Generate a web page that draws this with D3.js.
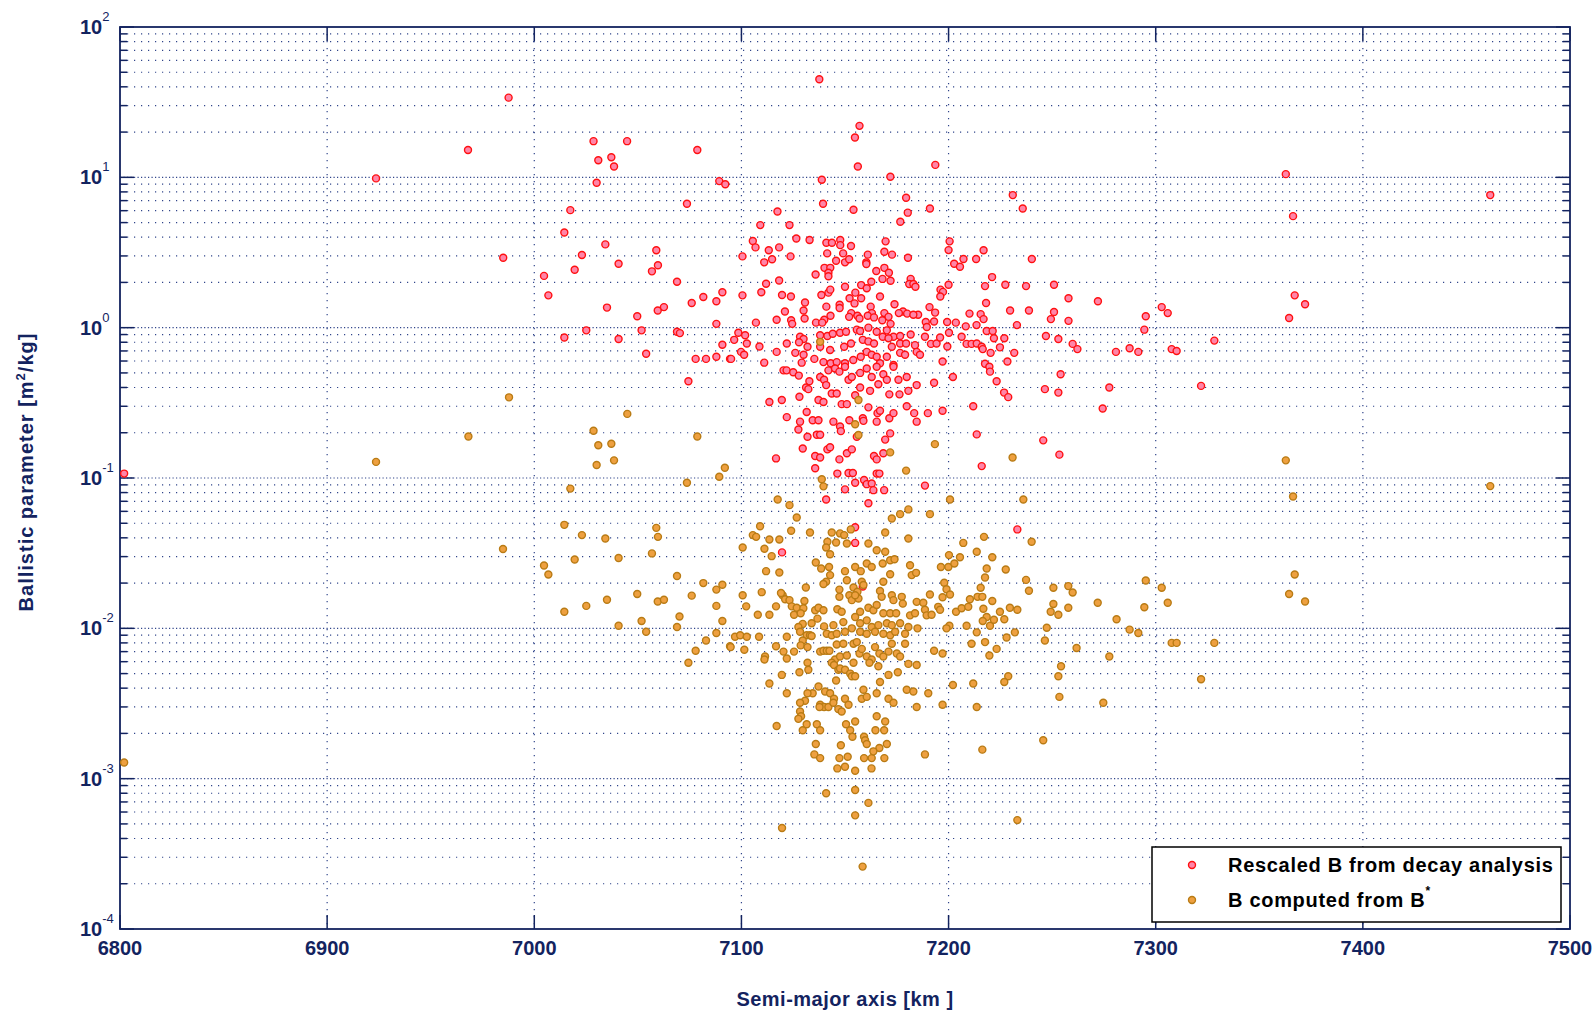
<!DOCTYPE html>
<html>
<head>
<meta charset="utf-8">
<script src="https://cdn.jsdelivr.net/npm/d3@7"></script>
<style>
  html, body { margin: 0; padding: 0; background: #ffffff; }
  svg { display: block; }
</style>
</head>
<body>
<div id="chart"></div>
<script>
// axis values
const xTicks = [6800, 6900, 7000, 7100, 7200, 7300, 7400, 7500];
const yExponents = [-4, -3, -2, -1, 0, 1, 2];
const legendLabels = ["Rescaled B from decay analysis", "B computed from B"];

// [semi-major axis km, ballistic parameter m2/kg]
const rescaledB = [
  [6802,0.107],[6923.6,9.84],[6968,15.2],[6987.6,33.9],[6985,2.92],[7028.6,17.4],[7044.8,17.4],
  [7030.9,13.0],[7037.2,13.6],[7038.5,11.8],[7030.1,9.2],[7078.7,15.2],[7017.4,6.05],[7014.5,4.3],
  [7034.3,3.58],[7058.9,3.27],[7073.7,6.67],[7089.3,9.44],[7092.2,9.0],[7023,3.04],[7040.7,2.66],
  [7059.7,2.6],[7056.8,2.37],[7019.5,2.43],[7004.7,2.21],[7006.8,1.64],[7068.9,2.02],[7076,1.46],
  [7081.6,1.6],[7087.9,1.5],[7090.8,1.72],[7035.1,1.36],[7049.7,1.19],[7059.6,1.3],[7062.6,1.37],
  [7087.9,1.06],[7025.1,0.96],[7014.5,0.86],[7040.7,0.84],[7051.8,0.96],[7068.9,0.94],[7070.3,0.92],
  [7090.8,0.77],[7054,0.67],[7077.9,0.62],[7082.9,0.62],[7087.9,0.64],[7094.5,0.62],[7074.4,0.44],
  // right side
  [7362.8,10.5],[7461.5,7.62],[7366.3,5.52],[7367.1,1.64],[7372.1,1.43],[7364.4,1.16],[7295.2,1.19],
  [7302.9,1.37],[7305.8,1.25],[7294.5,0.97],[7287.4,0.73],[7291.6,0.69],[7307.7,0.72],[7310.1,0.7],
  [7328.3,0.82],[7321.9,0.41],
  // upper middle
  [7137.6,44.9],[7157,22],[7154.8,18.4],[7156.2,11.8],[7193.6,12.1],[7138.8,9.64],[7171.9,10.1],
  [7179.5,7.31],[7180.3,5.82],[7176.7,5.07],[7191,6.21],[7139.4,6.67],[7154.1,6.09],[7117.4,5.93],
  [7109.1,4.81],[7123.2,4.81],[7231,7.62],[7235.8,6.21],[7126.5,3.92],[7132.9,3.83],[7105.5,3.77],
  [7106.8,3.42],[7118.2,3.42],[7113.2,3.27],[7100.5,2.98],[7123.7,2.98],[7111,2.72],[7114.8,2.85],
  [7141,3.67],[7143.7,3.67],[7147.7,3.83],[7147.7,3.54],[7152.9,3.49],[7141.4,3.12],[7149.1,3.12],
  [7145.7,2.79],[7150,2.72],[7152,2.85],[7169.6,3.75],[7169,3.2],[7172.7,3.06],[7161,3.06],
  [7160.3,2.72],[7160.3,2.65],[7180.4,2.92],[7140.1,2.5],[7142.9,2.5],[7169,2.5],[7142,2.32],
  [7142,2.2],[7135.8,2.26],[7165.1,2.38],[7171.2,2.32],[7168.1,2.11],[7181.7,2.11],[7172,2.05],
  [7181,1.95],[7183,1.95],[7184,1.87],[7157.8,1.92],[7160.5,1.83],[7162.7,2.02],[7150,1.87],
  [7155,1.71],[7142,1.71],[7142.9,1.79],[7138.6,1.65],[7119.6,1.65],[7123.9,1.61],[7118.2,2.06],
  [7111.9,1.96],[7109.6,1.72],[7100.5,1.64],[7166.9,1.61],[7152.2,1.57],[7157.8,1.57],[7154.6,1.45],
  [7162.4,1.38],[7173.9,1.43],[7196.1,1.79],[7197.3,1.73],[7196,1.61],[7200,1.93],[7200.5,3.75],
  [7200,3.28],[7202.7,2.66],[7205.5,2.54],[7207.2,2.86],[7213.3,2.86],[7216.9,3.27],[7221,2.17],
  [7217.6,1.89],[7237.4,1.89],[7227.4,1.93],[7250.9,1.93],[7240.2,2.86],[7257.9,1.57],[7272.1,1.5],
  [7218.1,1.46],[7229.7,1.3],[7238.8,1.3],[7250.9,1.27],[7249.4,1.14],[7257.9,1.11],[7233,1.04],
  [7210.1,1.24],[7215.5,1.23],[7216.9,1.14],[7208.3,1.02],[7213.5,1.04],[7203.5,1.08],[7199.3,1.09],
  [7193,1.1],[7193.5,1.26],[7190.8,1.37],[7185.3,1.22],[7189,1.09],[7189.5,1.01],[7178,1.28],
  [7180,1.24],[7183,1.22],[7176,1.25],[7169,1.25],[7171,1.18],[7168,1.12],[7172,1.06],[7163,1.25],
  [7161,1.2],[7164,1.17],[7153,1.25],[7156,1.2],[7157,1.15],[7152,1.18],[7147.4,1.42],[7147.4,1.35],
  [7141,1.38],[7143,1.2],[7140,1.13],[7136,1.08],[7139,1.08],[7130.7,1.47],[7130,1.3],[7130.5,1.15],
  [7121,1.28],[7117,1.13],[7107,1.08],[7124,1.12],[7124.5,1.06],
  // core below 1
  [7098.5,0.925],[7101.8,0.89],[7128.3,0.87],[7130,0.84],[7138,0.89],[7141.5,0.88],[7144.1,0.91],
  [7147.6,0.925],[7150.5,0.94],[7155.7,0.97],[7157.3,0.95],[7161.3,1.0],[7165.3,0.94],[7170.2,0.96],
  [7173.4,0.87],[7176.6,0.88],[7181.7,0.9],[7096.5,0.83],[7102.6,0.785],[7108.7,0.75],[7121.9,0.785],
  [7127.8,0.8],[7131.9,0.746],[7138,0.746],[7142.8,0.71],[7149.6,0.746],[7152.9,0.785],[7158.6,0.83],
  [7161.3,0.81],[7164,0.785],[7168.2,0.87],[7171,0.85],[7172.6,0.746],[7176.6,0.785],[7179.5,0.785],
  [7183.8,0.765],[7099.8,0.69],[7101.3,0.66],[7095,0.62],[7117,0.69],[7126,0.68],[7130,0.66],
  [7135.2,0.62],[7139.6,0.59],[7143.1,0.58],[7146,0.59],[7150,0.58],[7154,0.61],[7157.6,0.64],
  [7160.5,0.69],[7162.9,0.66],[7165.3,0.64],[7166.9,0.58],[7170.2,0.64],[7173.4,0.565],[7176.6,0.68],
  [7179,0.66],[7184.6,0.69],[7111,0.585],[7120.3,0.52],[7121.8,0.52],[7125,0.505],[7127.7,0.48],
  [7129.1,0.585],[7132.8,0.44],[7138,0.47],[7139.9,0.45],[7142,0.52],[7145.2,0.535],[7147.3,0.51],
  [7150,0.55],[7151.7,0.45],[7153.3,0.47],[7157.3,0.5],[7160.5,0.535],[7162.9,0.47],[7165.3,0.55],
  [7168.5,0.49],[7170.2,0.45],[7173.4,0.55],[7175.8,0.45],[7179.8,0.47],[7113.5,0.32],[7119.5,0.33],
  [7128,0.347],[7131.2,0.4],[7132.3,0.39],[7137.2,0.33],[7139.6,0.32],[7140.9,0.415],[7143.6,0.365],
  [7146,0.365],[7148.4,0.31],[7150.9,0.31],[7154.9,0.355],[7157.3,0.4],[7162.1,0.38],[7166.1,0.42],
  [7171.4,0.36],[7176.3,0.36],[7180.6,0.38],[7184.6,0.415],[7121.9,0.254],[7128.3,0.237],[7127.5,0.21],
  [7131.5,0.275],[7131.9,0.188],[7134.4,0.242],[7137.2,0.242],[7136.4,0.194],[7138,0.194],[7144.4,0.237],
  [7147.6,0.22],[7148,0.205],[7152.1,0.242],[7158.6,0.25],[7158.9,0.24],[7161.3,0.295],[7165.3,0.237],
  [7165.7,0.27],[7166.9,0.28],[7171.4,0.25],[7173.4,0.27],[7179.8,0.3],[7183.4,0.27],[7184.6,0.237],
  [7116.7,0.135],[7129.6,0.157],[7135.6,0.14],[7138,0.137],[7135.6,0.116],[7141.5,0.155],[7142.8,0.16],
  [7147.3,0.133],[7150.9,0.146],[7153.3,0.155],[7151.7,0.108],[7153.8,0.108],[7155.7,0.188],[7164,0.14],
  [7165.3,0.133],[7168.5,0.146],[7169.4,0.18],[7171.8,0.198],[7165.3,0.107],[7146.3,0.107],[7150,0.084],
  [7154.9,0.093],[7159.2,0.097],[7160.5,0.091],[7162.9,0.092],[7163.7,0.083],[7166.6,0.107],[7168.9,0.083],
  [7140.9,0.072],
  [7188.6,0.87],[7191.5,0.78],[7194.2,0.785],[7195.9,0.86],[7199.4,0.75],[7200.2,0.925],[7206.3,0.87],
  [7208.7,0.78],[7211.1,0.78],[7213.6,0.785],[7216,0.746],[7216.5,0.72],[7218.4,0.95],[7221.3,0.95],
  [7221.9,0.85],[7224.8,0.74],[7226.9,0.85],[7220.3,0.68],[7217.6,0.575],[7219.7,0.55],[7220,0.51],
  [7197.1,0.595],[7186.2,0.66],[7228.4,0.595],[7231.7,0.68],[7247,0.88],[7253,0.84],[7259.9,0.78],
  [7262.2,0.72],[7280.8,0.69],[7254.1,0.49],[7202.1,0.47],[7193,0.43],[7223.2,0.44],[7226.8,0.37],
  [7228.8,0.345],[7246.5,0.39],[7253,0.37],[7277.6,0.4],[7211.9,0.3],[7197.1,0.28],[7190,0.27],
  [7274.4,0.29],[7213.6,0.195],[7245.7,0.178],[7253.5,0.143],[7216,0.12],[7188.6,0.089],
  // low outliers
  [7119.6,0.032],[7154.9,0.047],[7154.9,0.037],[7158.6,0.019],[7233.2,0.0455],[7161.3,0.068]
];

const computedB = [
  [6802,0.00128],[6987.8,0.344],[6968.2,0.189],[6923.6,0.128],[7044.9,0.267],[7028.6,0.206],
  [7030.9,0.165],[7037.2,0.169],[7030.1,0.122],[7038.5,0.131],[7078.7,0.189],[7092,0.117],
  [7089.3,0.102],[7073.7,0.093],[7017.4,0.085],[7014.5,0.0488],[7023,0.0417],[7034.3,0.0396],
  [7058.9,0.0466],[7059.7,0.0406],[7056.8,0.0315],[6984.9,0.0337],[7019.5,0.0287],[7040.7,0.0294],
  [7004.7,0.0262],[7006.8,0.0228],[7068.9,0.0223],[7081.6,0.02],[7087.9,0.0181],[7090.8,0.0195],
  [7049.7,0.0169],[7076,0.0165],[7035.1,0.0155],[7059.6,0.0151],[7062.6,0.0155],[7087.9,0.0141],
  [7025.1,0.0141],[7014.5,0.0129],[7070.1,0.012],[7090.8,0.0112],[7040.7,0.0104],[7051.8,0.0112],
  [7054,0.0095],[7068.9,0.0102],[7087.9,0.0093],[7082.9,0.0083],[7094.5,0.0076],[7077.9,0.0071],
  [7074.4,0.0059],
  // right side
  [7362.8,0.131],[7461.5,0.0883],[7366.3,0.0754],[7367.1,0.0228],[7364.4,0.0169],[7372.1,0.0151],
  [7295.2,0.0208],[7302.9,0.0186],[7305.8,0.0148],[7294.5,0.0138],[7287.4,0.0098],[7291.6,0.0093],
  [7307.7,0.008],[7310.1,0.008],[7328.3,0.008],[7321.9,0.00458],
  // upper middle
  [7138,0.805],[7156.5,0.33],[7154.9,0.228],[7156.5,0.193],[7171.8,0.148],[7179.5,0.112],
  [7138.8,0.098],[7139.6,0.088],[7117.5,0.072],[7193.4,0.168],[7230.9,0.137],[7200.7,0.072],
  [7236.1,0.072],
  // core
  [7123.2,0.066],[7126.7,0.0546],[7109,0.0478],[7105.5,0.0417],[7107.1,0.0406],[7113.5,0.039],
  [7118.3,0.039],[7124,0.0446],[7133.1,0.0434],[7143.6,0.0434],[7147.6,0.0428],[7149.6,0.0417],
  [7152.8,0.0455],[7145.7,0.0372],[7150.9,0.0367],[7141.5,0.0377],[7140.9,0.0345],[7161.3,0.0367],
  [7165.3,0.0331],[7169.4,0.0323],[7169.4,0.0434],[7172.6,0.0538],[7176.6,0.0575],[7180.6,0.0618],
  [7180.6,0.0396],[7100.6,0.0345],[7111.1,0.0338],[7114.6,0.0302],[7142.8,0.0311],
  [7135.9,0.0274],[7138.5,0.025],[7142.3,0.0256],[7150,0.024],[7154.9,0.0256],[7157.6,0.024],
  [7160.5,0.027],[7162.9,0.0256],[7168.2,0.027],[7171.8,0.0284],[7173.9,0.0288],[7181.4,0.0263],
  [7182.2,0.0226],[7171.8,0.0229],[7111.9,0.024],[7118.3,0.0235],[7142.8,0.0226],[7140.9,0.0204],
  [7139.6,0.0197],[7150.9,0.0209],[7158.1,0.0204],[7154.1,0.0187],[7158.9,0.0194],[7168.5,0.0204],
  [7184.3,0.0234],
  [7100.6,0.0166],[7109.8,0.0174],[7131.1,0.0187],[7147.3,0.0181],[7119.9,0.0166],[7121.1,0.0156],
  [7123.2,0.0154],[7124.3,0.014],[7130.4,0.0152],[7147.3,0.0162],[7152.1,0.0166],[7153.3,0.0154],
  [7156,0.0175],[7156.5,0.0158],[7154.9,0.0166],[7166.9,0.0177],[7167.7,0.0162],[7172.6,0.0166],
  [7173.4,0.0154],[7177.4,0.0162],[7177.9,0.0146],[7184.6,0.015],[7102.3,0.014],[7116.7,0.014],
  [7126.7,0.0137],[7129.9,0.0136],[7135.6,0.0132],[7137.2,0.0137],[7139.6,0.0132],[7146.3,0.0134],
  [7148.4,0.0129],[7157.3,0.0129],[7161.3,0.0137],[7163.7,0.0132],[7165.3,0.0143],[7168.5,0.0126],
  [7171.8,0.0126],[7174.7,0.0126],[7181.4,0.0122],[7183.8,0.0126],
  [7107.9,0.0123],[7113.5,0.0123],[7119.1,0.0172],[7125.4,0.0123],[7128.6,0.0126],[7136.7,0.0116],
  [7133.9,0.0108],[7129.6,0.0107],[7127.5,0.0102],[7139.9,0.0103],[7144.4,0.0105],[7149.2,0.011],
  [7154.9,0.0119],[7157.3,0.0108],[7160.5,0.0113],[7162.9,0.0102],[7166.1,0.0105],[7170.2,0.0108],
  [7172.6,0.0105],[7176.6,0.0108],[7179,0.0092],[7180.6,0.0102],[7185,0.01],[7096.9,0.0088],
  [7099.4,0.009],[7102.6,0.0088],[7108.5,0.0088],[7121.9,0.0088],[7128.3,0.0095],[7131.5,0.009],
  [7133.1,0.009],[7141.2,0.0092],[7143.6,0.009],[7146,0.0092],[7150,0.0095],[7153.3,0.01],
  [7157.3,0.0095],[7160.5,0.0092],[7164.5,0.0095],[7168.5,0.0092],[7171.8,0.009],[7174.2,0.0095],
  [7094.8,0.0075],[7101.4,0.0072],[7111.4,0.0065],[7111.1,0.0062],[7116.7,0.0076],[7120.3,0.007],
  [7121.9,0.0063],[7125.4,0.007],[7129.6,0.0083],[7128.6,0.0077],[7131.9,0.0075],[7133.9,0.0089],
  [7138,0.007],[7139.6,0.0071],[7141.2,0.0071],[7142.5,0.0071],[7145.2,0.0062],[7146,0.0078],
  [7147.6,0.0065],[7149.2,0.0079],[7150.9,0.0066],[7154.1,0.0079],[7155.7,0.0081],[7157,0.0068],
  [7158.1,0.0073],[7160.5,0.0065],[7162.9,0.0062],[7164.5,0.0075],[7166.6,0.0068],[7168.5,0.0065],
  [7171,0.007],[7172.6,0.0079],[7175,0.0068],[7176.6,0.0065],[7179,0.0079],[7180.6,0.0058],
  [7184.6,0.0057],
  [7131.9,0.0059],[7132.3,0.0053],[7128,0.0051],[7119.5,0.0049],[7143.6,0.0059],[7144.7,0.0057],
  [7146.8,0.0053],[7147.6,0.0054],[7150,0.0053],[7152.5,0.005],[7153.3,0.0048],[7154.1,0.0059],
  [7154.9,0.0048],[7161.8,0.0059],[7166.1,0.0056],[7166.9,0.0044],[7171,0.0049],[7175.5,0.0051],
  [7113.5,0.0043],[7145.7,0.0045],
  [7137.2,0.0041],[7134.4,0.0037],[7131.9,0.0037],[7140.4,0.0038],[7142.8,0.0037],[7144.7,0.0034],
  [7121.9,0.0037],[7130.7,0.0033],[7128.3,0.0032],[7138,0.0031],[7139.9,0.003],[7142,0.003],
  [7144.4,0.0032],[7137.7,0.003],[7146.8,0.0029],[7148.4,0.0028],[7150,0.0034],[7151.7,0.0031],
  [7158.1,0.0034],[7158.9,0.0039],[7160.5,0.0035],[7165.3,0.0037],[7171,0.0034],[7173.4,0.0032],
  [7179.8,0.0039],[7183,0.0038],[7184.6,0.003],
  [7128.3,0.0028],[7128.8,0.0026],[7127.5,0.0025],[7117,0.00224],[7129.6,0.0021],[7131.5,0.0023],
  [7136.4,0.0023],[7138,0.0021],[7150.5,0.0023],[7152.5,0.0021],[7153.6,0.0019],[7154.9,0.0024],
  [7159.2,0.0019],[7159.7,0.0018],[7160.5,0.0017],[7164.7,0.0021],[7166.6,0.0016],[7165.3,0.0026],
  [7169.4,0.0024],[7168.9,0.0021],[7170.2,0.0017],
  [7135.9,0.0017],[7135.2,0.00145],[7138,0.00137],[7148,0.00167],[7147.3,0.00137],[7151.3,0.0014],
  [7150,0.0012],[7146.3,0.00117],[7154.9,0.00113],[7159.2,0.00137],[7162.9,0.00137],[7163.7,0.00152],
  [7162.8,0.00117],[7169,0.00137],
  [7140.9,0.0008],[7154.9,0.00084],[7161.3,0.00069],[7154.9,0.00057],[7119.6,0.00047],[7158.5,0.00026],
  // core, right half
  [7191,0.0575],[7217.1,0.0406],[7207.1,0.037],[7240.1,0.0377],[7213.6,0.0323],[7200.2,0.0307],
  [7205.5,0.0297],[7221.1,0.0297],[7196.3,0.0256],[7199.9,0.0256],[7202.8,0.027],[7218.4,0.025],
  [7217.6,0.0218],[7227.6,0.0246],[7237.4,0.021],[7215.5,0.0186],[7197.9,0.0201],[7199,0.0182],
  [7200.7,0.0168],[7191,0.0168],[7197.1,0.0161],[7238.8,0.0178],[7250.6,0.0186],[7257.8,0.0191],
  [7259.9,0.0173],[7187.8,0.0148],[7188.6,0.0133],[7189.4,0.0122],[7191.8,0.0123],[7195,0.0139],
  [7195.9,0.0133],[7203.6,0.0129],[7206.3,0.0136],[7209.5,0.0139],[7210.3,0.0156],[7214,0.0162],
  [7216.3,0.0162],[7216.8,0.0135],[7221.1,0.0152],[7224.8,0.0129],[7229.6,0.0137],[7233.2,0.0133],
  [7250.6,0.0145],[7249.3,0.0129],[7253,0.0123],[7257.8,0.0137],[7272,0.0148],[7281.1,0.0115],
  [7218.4,0.0119],[7216.5,0.0112],[7220,0.0104],[7221.9,0.0114],[7226.9,0.0115],[7208.7,0.0104],
  [7200.4,0.0104],[7199,0.01],[7213.6,0.0094],[7211.1,0.0079],[7217.6,0.0081],[7228,0.0087],
  [7232,0.0094],[7247.4,0.0101],[7246.5,0.0083],[7223.2,0.0073],[7219.7,0.0066],[7193,0.0071],
  [7197.1,0.0068],[7261.8,0.0074],[7277.6,0.0065],[7254.3,0.0056],[7253,0.0048],[7228.8,0.0048],
  [7226.9,0.0044],[7211.9,0.0043],[7202.1,0.0042],[7190.2,0.0037],[7197.1,0.0031],[7213.6,0.003],
  [7253.5,0.0035],[7274.7,0.0032],[7245.7,0.0018],[7216.3,0.00156],[7188.6,0.00145],[7233.2,0.00053]
];

const width = 1595, height = 1013;
const box = { left: 120, right: 1570, top: 27, bottom: 929 };
const navy = "#13235f";
const gridColor = "#31458a";
const font = "'Liberation Sans', Arial, Helvetica, sans-serif";

const svg = d3.select("#chart").append("svg")
  .attr("width", width)
  .attr("height", height)
  .style("background", "#ffffff")
  .style("font-family", font);

const x = d3.scaleLinear().domain([6800, 7500]).range([box.left, box.right]);
const y = d3.scaleLog().domain([1e-4, 1e2]).range([box.bottom, box.top]);

const decadeValues = yExponents.map(e => Math.pow(10, e));
const minorValues = [];
yExponents.slice(0, -1).forEach(e => {
  for (let m = 2; m <= 9; m++) minorValues.push(m * Math.pow(10, e));
});

// dotted grid
const grid = svg.append("g");
grid.selectAll(".minor").data(minorValues).join("line")
  .attr("x1", box.left).attr("x2", box.right)
  .attr("y1", d => y(d)).attr("y2", d => y(d))
  .attr("stroke", gridColor).attr("stroke-width", 1.2)
  .attr("stroke-dasharray", "1.2,5.8");
grid.selectAll(".major").data(decadeValues.slice(1, -1)).join("line")
  .attr("x1", box.left).attr("x2", box.right)
  .attr("y1", d => y(d)).attr("y2", d => y(d))
  .attr("stroke", gridColor).attr("stroke-width", 1.2)
  .attr("stroke-dasharray", "1.2,2.3");
grid.selectAll(".vert").data(xTicks.slice(1, -1)).join("line")
  .attr("x1", d => x(d)).attr("x2", d => x(d))
  .attr("y1", box.top).attr("y2", box.bottom)
  .attr("stroke", gridColor).attr("stroke-width", 1.2)
  .attr("stroke-dasharray", "1.2,5.8");

// inward ticks on all four sides
const ticks = svg.append("g").attr("stroke", navy).attr("stroke-width", 1.5);
const majorLen = 14, minorLen = 7;
decadeValues.forEach(v => {
  ticks.append("line").attr("x1", box.left).attr("x2", box.left + majorLen).attr("y1", y(v)).attr("y2", y(v));
  ticks.append("line").attr("x1", box.right).attr("x2", box.right - majorLen).attr("y1", y(v)).attr("y2", y(v));
});
minorValues.forEach(v => {
  ticks.append("line").attr("x1", box.left).attr("x2", box.left + minorLen).attr("y1", y(v)).attr("y2", y(v));
  ticks.append("line").attr("x1", box.right).attr("x2", box.right - minorLen).attr("y1", y(v)).attr("y2", y(v));
});
xTicks.forEach(v => {
  ticks.append("line").attr("x1", x(v)).attr("x2", x(v)).attr("y1", box.bottom).attr("y2", box.bottom - majorLen);
  ticks.append("line").attr("x1", x(v)).attr("x2", x(v)).attr("y1", box.top).attr("y2", box.top + majorLen);
});

// frame
svg.append("rect")
  .attr("x", box.left).attr("y", box.top)
  .attr("width", box.right - box.left).attr("height", box.bottom - box.top)
  .attr("fill", "none").attr("stroke", navy).attr("stroke-width", 1.8);

// x tick labels
svg.append("g").selectAll("text").data(xTicks).join("text")
  .attr("x", d => x(d))
  .attr("y", box.bottom + 26)
  .attr("text-anchor", "middle")
  .attr("font-size", "20px")
  .attr("font-weight", "bold")
  .attr("fill", navy)
  .text(d => d);

// y tick labels 10^n
const yLab = svg.append("g").selectAll("text").data(yExponents).join("text")
  .attr("x", 80)
  .attr("y", d => y(Math.pow(10, d)) + 7)
  .attr("font-size", "20px")
  .attr("font-weight", "bold")
  .attr("fill", navy);
yLab.append("tspan").text("10");
yLab.append("tspan")
  .attr("dy", -13)
  .attr("font-size", "13px")
  .attr("font-weight", "normal")
  .text(d => d);

// axis titles
svg.append("text")
  .attr("x", 845).attr("y", 1006)
  .attr("text-anchor", "middle")
  .attr("font-size", "20px").attr("font-weight", "bold").attr("fill", navy)
  .attr("letter-spacing", "0.5px")
  .text("Semi-major axis [km ]");

const yTitle = svg.append("text")
  .attr("transform", "translate(33,472) rotate(-90)")
  .attr("text-anchor", "middle")
  .attr("font-size", "20px").attr("font-weight", "bold").attr("fill", navy)
  .attr("letter-spacing", "1px");
yTitle.append("tspan").text("Ballistic parameter [m");
yTitle.append("tspan").attr("dy", -8).attr("font-size", "13px").text("2");
yTitle.append("tspan").attr("dy", 8).text("/kg]");

// markers
const styles = [
  { fill: "#ff85a8", stroke: "#ff1010" },
  { fill: "#eea040", stroke: "#b97b14" }
];
const markerR = 3.5;

svg.append("g").selectAll("circle").data(rescaledB).join("circle")
  .attr("cx", d => x(d[0])).attr("cy", d => y(d[1]))
  .attr("r", markerR)
  .attr("fill", styles[0].fill).attr("stroke", styles[0].stroke).attr("stroke-width", 1.4);

svg.append("g").selectAll("circle").data(computedB).join("circle")
  .attr("cx", d => x(d[0])).attr("cy", d => y(d[1]))
  .attr("r", markerR)
  .attr("fill", styles[1].fill).attr("stroke", styles[1].stroke).attr("stroke-width", 1.4);

// legend
const legend = svg.append("g");
legend.append("rect")
  .attr("x", 1152).attr("y", 847)
  .attr("width", 409).attr("height", 75)
  .attr("fill", "#ffffff").attr("stroke", "#000000").attr("stroke-width", 1.5);
legendLabels.forEach((label, i) => {
  const cy = 865 + i * 35;
  legend.append("circle")
    .attr("cx", 1192).attr("cy", cy).attr("r", markerR)
    .attr("fill", styles[i].fill).attr("stroke", styles[i].stroke).attr("stroke-width", 1.4);
  const t = legend.append("text")
    .attr("x", 1228).attr("y", cy + 7)
    .attr("font-size", "20px").attr("font-weight", "bold").attr("fill", "#000000")
    .attr("letter-spacing", "0.7px");
  t.append("tspan").text(label);
  if (i === 1) {
    t.append("tspan").attr("dy", -12).attr("font-size", "12px").text("*");
  }
});
</script>
</body>
</html>
